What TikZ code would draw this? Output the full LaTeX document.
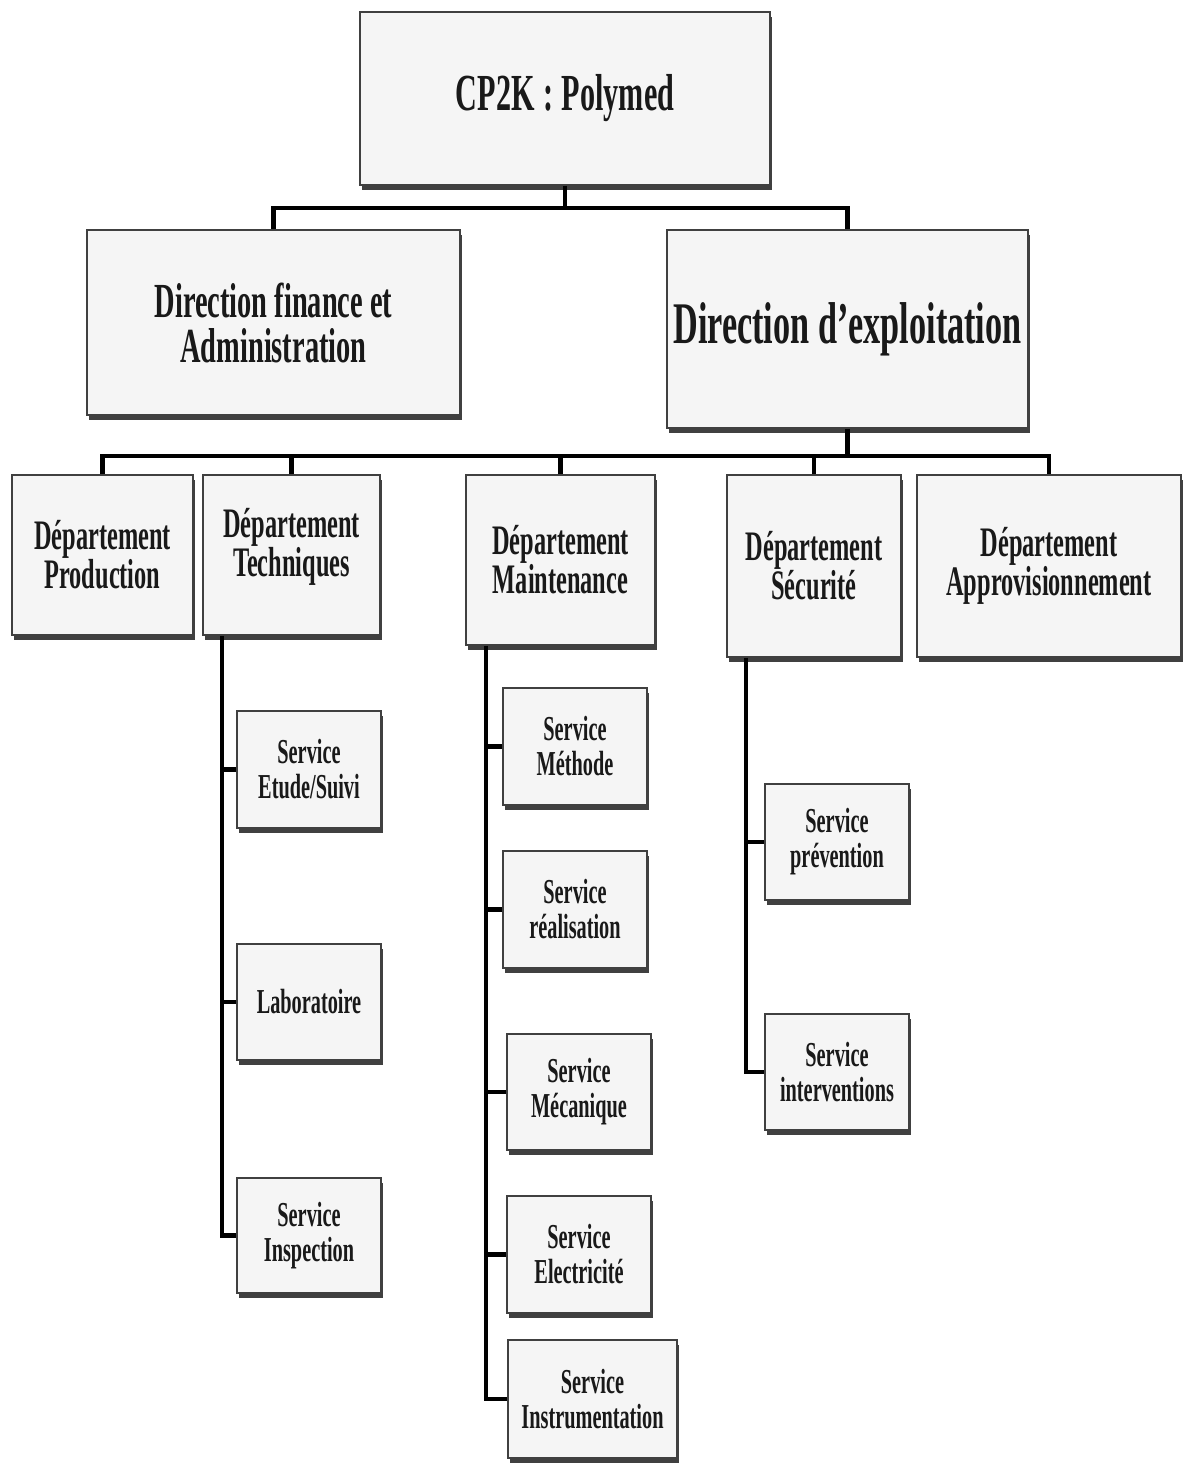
\documentclass[tikz,border=0pt]{standalone}
\usepackage{fontspec}
\setmainfont{Liberation Serif}[FakeStretch=0.58]
\usepackage{tikz}
\usetikzlibrary{shadows}
\def\sztop{\fontsize{52}{56}\selectfont}
\def\szdir{\fontsize{49}{45}\selectfont}
\def\szdep{\fontsize{42}{38}\selectfont}
\def\szsrv{\fontsize{35}{35}\selectfont}

\begin{document}
\begin{tikzpicture}[x=1pt,y=-1pt,
  box/.style={draw=black!75, line width=1.8pt, fill=black!4, text=black!90,
    align=center, inner sep=0pt,
    drop shadow={shadow xshift=1.5pt, shadow yshift=-4.5pt, fill=black!75, opacity=1}},
  topbox/.style={box, font=\bfseries\sztop},
  dirbox/.style={box, font=\bfseries\szdir},
  depbox/.style={box, font=\bfseries\szdep},
  srvbox/.style={box, font=\bfseries\szsrv},
  link/.style={line width=4.5pt, black}]

\useasboundingbox (0,0) rectangle (1185,1465);

%top
\node[topbox, minimum width=410, minimum height=173] (cp2k) at (565,98.5) {CP2K\,:\,Polymed};

%directions
\node[dirbox, minimum width=373, minimum height=185] (dfa) at (273.5,322.5) {Direction finance et\\Administration};
\node[dirbox, font=\bfseries\fontsize{59}{60}\selectfont, minimum width=361, minimum height=198] (dex) at (847.5,329) {Direction d'exploitation};

%departements
\node[depbox, minimum width=181, minimum height=160] (prod) at (102.5,555) {Département\\Production};
\node[depbox, text depth=26pt, minimum width=177, minimum height=160] (tech) at (291.5,555) {Département\\Techniques};
\node[depbox, minimum width=189, minimum height=170] (maint) at (560.5,560) {Département\\Maintenance};
\node[depbox, minimum width=174, minimum height=182] (secu) at (814,566) {Département\\Sécurité};
\node[depbox, minimum width=264, minimum height=182] (appro) at (1049,566) {Département\\Approvisionnement};

%services techniques
\node[srvbox, minimum width=144, minimum height=117] (etude) at (309,769.5) {Service\\Etude/Suivi};
\node[srvbox, minimum width=144, minimum height=116] (labo) at (309,1002) {Laboratoire};
\node[srvbox, minimum width=144, minimum height=115] (insp) at (309,1235.5) {Service\\Inspection};

%services maintenance
\node[srvbox, minimum width=144, minimum height=117] (meth) at (575,746.5) {Service\\Méthode};
\node[srvbox, minimum width=144, minimum height=117] (real) at (575,909.5) {Service\\réalisation};
\node[srvbox, minimum width=144, minimum height=116] (meca) at (579,1092) {Service\\Mécanique};
\node[srvbox, minimum width=144, minimum height=117] (elec) at (579,1254.5) {Service\\Electricité};
\node[srvbox, minimum width=169, minimum height=118] (instr) at (592.5,1399) {Service\\Instrumentation};

%services securite
\node[srvbox, minimum width=144, minimum height=116] (prev) at (837,842) {Service\\prévention};
\node[srvbox, minimum width=144, minimum height=116] (inter) at (837,1072) {Service\\interventions};

%liens directions
\draw[link] (cp2k.south) -- ++(0,22) coordinate (b1);
\draw[link] (dfa.north) |- (b1) -| (dex.north);

%liens departements
\draw[link] (dex.south) -- ++(0,27) coordinate (b2);
\draw[link] (prod.north) |- (b2) -| (appro.north);
\foreach \d in {tech,maint,secu} \draw[link] (\d.north) -- (\d.north |- b2);

%liens services
\coordinate (s1) at ([xshift=20pt]tech.south west);
\draw[link] (s1) |- (insp.west);
\foreach \s in {etude,labo} \draw[link] (\s.west) -- (\s.west -| s1);

\coordinate (s2) at ([xshift=21pt]maint.south west);
\draw[link] (s2) |- (instr.west);
\foreach \s in {meth,real,meca,elec} \draw[link] (\s.west) -- (\s.west -| s2);

\coordinate (s3) at ([xshift=20pt]secu.south west);
\draw[link] (s3) |- (inter.west);
\draw[link] (prev.west) -- (prev.west -| s3);

\end{tikzpicture}
\end{document}
